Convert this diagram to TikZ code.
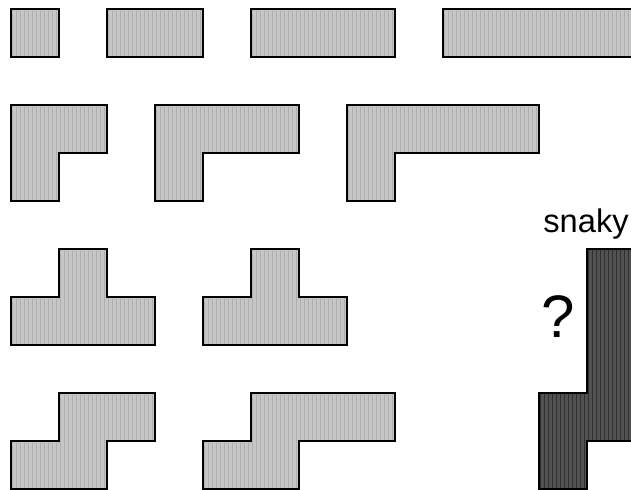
\documentclass[tikz,border=0pt]{standalone}
\usepackage{fontspec}
\setmainfont{Liberation Sans}
\usetikzlibrary{patterns}

\begin{document}
\begin{tikzpicture}[x=36pt, y=-36pt, line join=miter,
  piece/.style={preaction={fill=gray!45},
    preaction={pattern=vertical lines, pattern color=gray!62},
    draw, line width=2pt},
  darkpiece/.style={preaction={fill=black!68},
    preaction={pattern=vertical lines, pattern color=black!82},
    draw, line width=2pt}]
\useasboundingbox (-0.229,-0.1875) rectangle (12.917,10.021);
% straight pieces
\path[piece] (0,0) rectangle (1,1);
\path[piece] (2,0) rectangle (4,1);
\path[piece] (5,0) rectangle (8,1);
\path[piece] (9,0) rectangle (13,1);
% L pieces
\path[piece] (0,2) -- (2,2) -- (2,3) -- (1,3) -- (1,4) -- (0,4) -- cycle;
\path[piece] (3,2) -- (6,2) -- (6,3) -- (4,3) -- (4,4) -- (3,4) -- cycle;
\path[piece] (7,2) -- (11,2) -- (11,3) -- (8,3) -- (8,4) -- (7,4) -- cycle;
% T pieces
\path[piece] (1,5) -- (2,5) -- (2,6) -- (3,6) -- (3,7) -- (0,7) -- (0,6) -- (1,6) -- cycle;
\path[piece] (5,5) -- (6,5) -- (6,6) -- (7,6) -- (7,7) -- (4,7) -- (4,6) -- (5,6) -- cycle;
% S pieces
\path[piece] (1,8) -- (3,8) -- (3,9) -- (2,9) -- (2,10) -- (0,10) -- (0,9) -- (1,9) -- cycle;
\path[piece] (5,8) -- (8,8) -- (8,9) -- (6,9) -- (6,10) -- (4,10) -- (4,9) -- (5,9) -- cycle;
% snaky
\path[darkpiece] (12,5) -- (13,5) -- (13,9) -- (12,9) -- (12,10) -- (11,10) -- (11,8) -- (12,8) -- cycle;
\node[anchor=base, font=\fontsize{24.5}{28}\selectfont, inner sep=0pt] (snakylbl) at (11.98,4.646) {snaky};
\node[anchor=base, font=\fontsize{45}{50}\selectfont, inner sep=0pt] (qmark) at (11.4,6.85) {?};
\end{tikzpicture}
\end{document}
